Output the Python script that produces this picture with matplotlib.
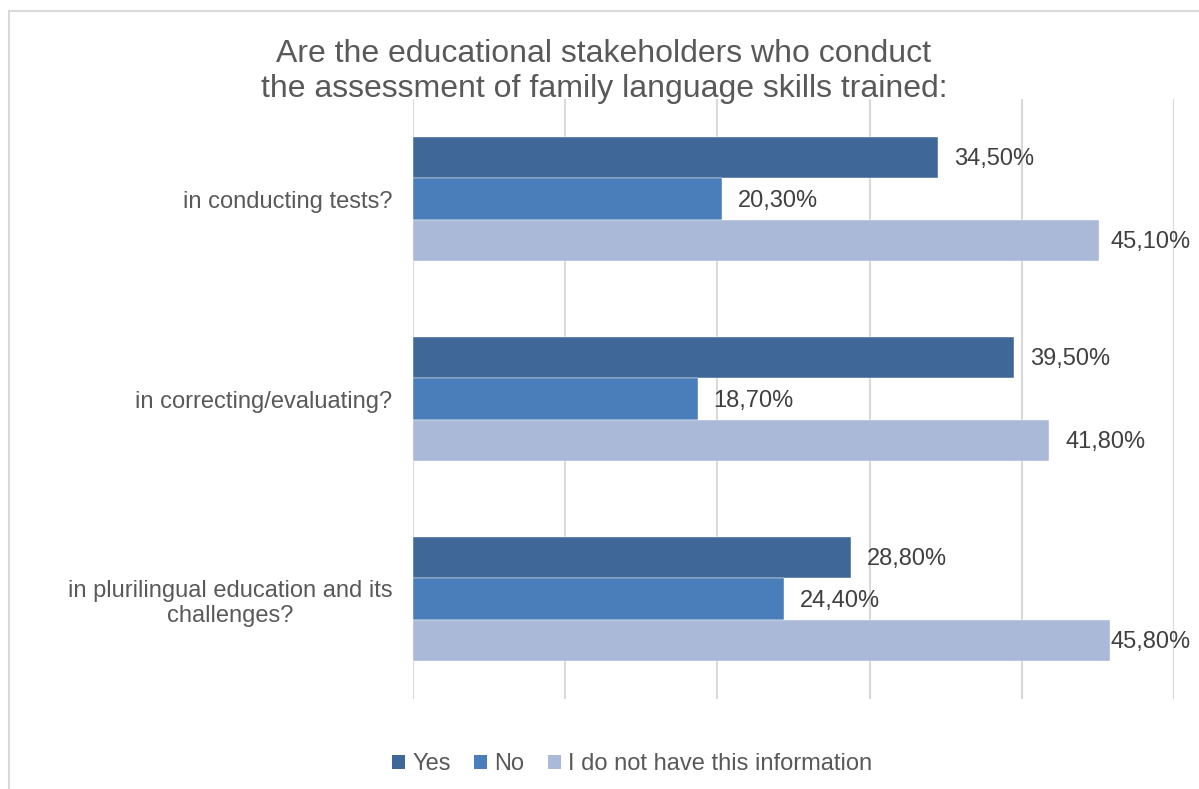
import matplotlib
matplotlib.use("Agg")
import matplotlib.pyplot as plt
import numpy as np
from matplotlib.patches import Rectangle, Patch

categories = ["in conducting tests?", "in correcting/evaluating?",
              "in plurilingual education and its\nchallenges?"]
series_names = ["Yes", "No", "I do not have this information"]
yes_vals = [34.5, 39.5, 28.8]
no_vals = [20.3, 18.7, 24.4]
info_vals = [45.1, 41.8, 45.8]
colors = ["#3F6797", "#4A7EBB", "#AAB9D7"]

plt.rcParams["font.family"] = ["Liberation Sans", "DejaVu Sans"]

fig = plt.figure(figsize=(11.99, 7.89), dpi=100)
ax = fig.add_axes([413 / 1199, 1 - 699 / 789, (1174 - 413) / 1199, 600 / 789])

# outer chart frame
fig.patches.append(Rectangle((9 / 1199, -0.1), 1.2, 1 - 11 / 789 + 0.1,
                             transform=fig.transFigure, fill=False,
                             edgecolor="#D9D9D9", linewidth=1.5))

y = np.arange(len(categories))
h = 0.2067
offsets = [-h, 0, h]
label_x_max = 45.83  # keep labels inside the chart frame on the right
for vals, off, col, name in zip([yes_vals, no_vals, info_vals], offsets, colors, series_names):
    ax.barh(y + off, vals, height=h, color=col, edgecolor="white",
            linewidth=0.3, label=name, zorder=2)
    for v, yy in zip(vals, y + off):
        ax.text(min(v + 1.05, label_x_max), yy + 0.008, f"{v:.2f}%".replace(".", ","),
                va="center", ha="left", fontsize=17, color="#404040",
                clip_on=False, zorder=3)

ax.set_xlim(0, 50)
ax.set_ylim(2.5, -0.5)
ax.set_xticks(np.arange(0, 51, 10))
ax.xaxis.grid(True, color="#D9D9D9", linewidth=1.5, zorder=0)
ax.set_axisbelow(True)
ax.tick_params(axis="x", length=0, labelbottom=False)
ax.tick_params(axis="y", length=0, pad=15, labelsize=17, labelcolor="#595959")
ax.set_yticks(y)
ax.set_yticklabels(categories, multialignment="center", linespacing=1.2)
for s in ax.spines.values():
    s.set_visible(False)

fig.text(604 / 1199, 1 - 71.5 / 789,
         "Are the educational stakeholders who conduct\nthe assessment of family language skills trained:",
         ha="center", va="center", fontsize=23, color="#595959", linespacing=1.25)

handles = [Patch(facecolor=c, label=n) for c, n in zip(colors, series_names)]
fig.legend(handles=handles, loc="center", bbox_to_anchor=(632 / 1199, 1 - 764 / 789),
           ncol=3, frameon=False, fontsize=17, labelcolor="#595959",
           handlelength=0.55, handleheight=0.55, handletextpad=0.3, columnspacing=1.0)

fig.savefig("out.png", dpi=100, facecolor="white")
